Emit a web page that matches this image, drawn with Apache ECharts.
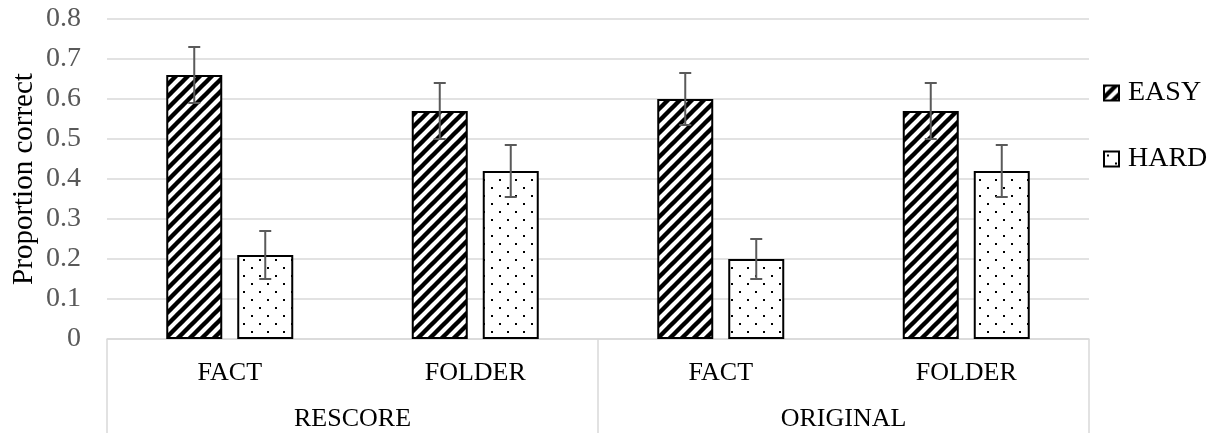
<!DOCTYPE html>
<html>
<head>
<meta charset="utf-8">
<script src="https://cdn.jsdelivr.net/npm/echarts@6/dist/echarts.min.js"></script>
<style>
html,body{margin:0;padding:0;background:#fff;}
#chart{width:1229px;height:433px;}
</style>
</head>
<body>
<div id="chart"></div>
<script>
const categories = ['FACT', 'FOLDER', 'FACT', 'FOLDER'];
const groups = ['RESCORE', 'ORIGINAL'];
const seriesNames = ['EASY', 'HARD'];
const easyValues = [0.66, 0.57, 0.60, 0.57];
const hardValues = [0.21, 0.42, 0.20, 0.42];
const easyErrors = [0.07, 0.07, 0.065, 0.07];
const hardErrors = [0.06, 0.065, 0.05, 0.065];
const yTicks = { min: 0, max: 0.8, interval: 0.1 };

const FONT = "'Liberation Serif', 'Times New Roman', serif";

function stripePattern() {
  const c = document.createElement('canvas');
  c.width = 12; c.height = 12;
  const g = c.getContext('2d');
  g.fillStyle = '#fff'; g.fillRect(0, 0, 12, 12);
  g.strokeStyle = '#000'; g.lineWidth = 4.4;
  for (let k = -1; k <= 1; k++) {
    g.beginPath();
    g.moveTo(k * 12 - 4, 16);
    g.lineTo(k * 12 + 16, -4);
    g.stroke();
  }
  return c;
}
function dotPattern() {
  const c = document.createElement('canvas');
  c.width = 16; c.height = 16;
  const g = c.getContext('2d');
  g.fillStyle = '#fff'; g.fillRect(0, 0, 16, 16);
  g.fillStyle = '#000';
  g.fillRect(3, 3, 2, 2);
  g.fillRect(11, 11, 2, 2);
  return c;
}

const BAR_W = 56, BAR_GAP = 15;
const OFFSET = (BAR_W + BAR_GAP) / 2;

function errData(vals, errs, idx) {
  return vals.map((v, i) => [i, v, errs[i], idx]);
}

const chart = echarts.init(document.getElementById('chart'));
chart.setOption({
  animation: false,
  backgroundColor: '#fff',
  grid: { left: 107, right: 140, top: 19, bottom: 94, containLabel: false, outerBoundsMode: 'none' },
  legend: {
    data: seriesNames,
    orient: 'vertical',
    icon: 'rect',
    left: 1103,
    top: 79,
    padding: 0,
    itemWidth: 15,
    itemHeight: 15,
    itemGap: 38,
    textStyle: { fontFamily: FONT, fontSize: 28, color: '#000', padding: [0, 0, 0, 4] }
  },
  xAxis: [
    {
      type: 'category',
      data: categories,
      position: 'bottom',
      axisLine: { show: true, lineStyle: { color: '#d9d9d9', width: 1.5 } },
      axisTick: { show: false },
      axisLabel: { fontFamily: FONT, fontSize: 26, color: '#000', margin: 21 }
    },
    {
      type: 'category',
      data: groups,
      position: 'bottom',
      axisLine: { show: false },
      axisTick: { show: true, length: 94, interval: 0, lineStyle: { color: '#d9d9d9', width: 1.5 } },
      axisLabel: { fontFamily: FONT, fontSize: 26, color: '#000', margin: 67 },
      splitLine: { show: false }
    }
  ],
  yAxis: {
    type: 'value',
    min: yTicks.min, max: yTicks.max, interval: yTicks.interval,
    name: 'Proportion correct',
    nameLocation: 'middle',
    nameGap: 68,
    nameMoveOverlap: false,
    nameTextStyle: { fontFamily: FONT, fontSize: 29, color: '#000' },
    axisLine: { show: false },
    axisTick: { show: false },
    axisLabel: { fontFamily: FONT, fontSize: 28, color: '#595959', margin: 26 },
    splitLine: { lineStyle: { color: '#d9d9d9', width: 1.5 } }
  },
  series: [
    {
      name: seriesNames[0], type: 'bar', data: easyValues,
      barWidth: BAR_W, barGap: (BAR_GAP / BAR_W * 100) + '%',
      itemStyle: { color: { image: stripePattern(), repeat: 'repeat' }, borderColor: '#000', borderWidth: 2 }
    },
    {
      name: seriesNames[1], type: 'bar', data: hardValues,
      barWidth: BAR_W,
      itemStyle: { color: { image: dotPattern(), repeat: 'repeat' }, borderColor: '#000', borderWidth: 2 }
    },
    {
      type: 'custom', z: 10,
      data: errData(easyValues, easyErrors, 0).concat(errData(hardValues, hardErrors, 1)),
      encode: { x: 0, y: 1 },
      renderItem: function (params, api) {
        const x = api.value(0), v = api.value(1), e = api.value(2), s = api.value(3);
        const off = s === 0 ? -OFFSET : OFFSET;
        const top = api.coord([x, v + e]);
        const bot = api.coord([x, v - e]);
        const cx = top[0] + off;
        const hw = 6;
        const style = { stroke: '#5a5a5a', lineWidth: 2 };
        return {
          type: 'group',
          children: [
            { type: 'line', shape: { x1: cx, y1: top[1], x2: cx, y2: bot[1] }, style: style },
            { type: 'line', shape: { x1: cx - hw, y1: top[1], x2: cx + hw, y2: top[1] }, style: style },
            { type: 'line', shape: { x1: cx - hw, y1: bot[1], x2: cx + hw, y2: bot[1] }, style: style }
          ]
        };
      }
    }
  ]
});
</script>
</body>
</html>
